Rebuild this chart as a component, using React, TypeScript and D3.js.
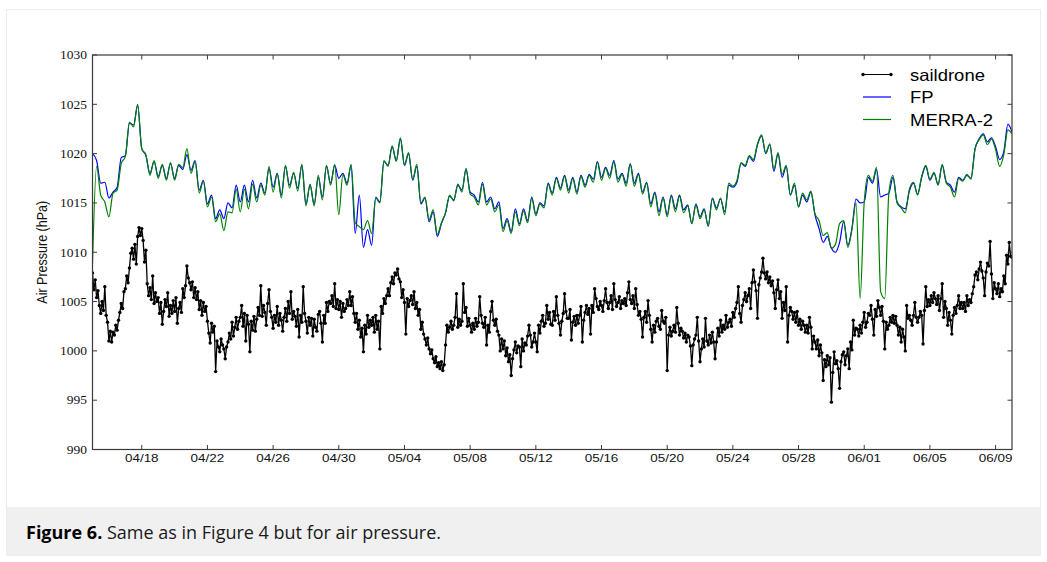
import React from 'react';
import * as d3 from 'd3';

const W = 1047;
const H = 562;

// Time axis: 2018-04-15 00:00 UTC to 2018-06-10 00:00 UTC
const startDay = [2018, 3, 15];
const endDay = [2018, 5, 10];
const xTickLabels = ['04/18', '04/22', '04/26', '04/30', '05/04', '05/08', '05/12', '05/16', '05/20', '05/24', '05/28', '06/01', '06/05', '06/09'];
const yTickValues = [990, 995, 1000, 1005, 1010, 1015, 1020, 1025, 1030];

// FP (6-hourly, one row per day starting 04/15)
const fpDays: number[][] = [
  [1020.0, 1019.3, 1017.0, 1017.1],
  [1015.5, 1016.1, 1016.6, 1019.6],
  [1019.8, 1023.1, 1022.9, 1024.9],
  [1020.5, 1019.8, 1018.0, 1019.2],
  [1017.7, 1018.8, 1017.5, 1019.0],
  [1017.5, 1018.8, 1018.4, 1019.9],
  [1018.3, 1019.3, 1016.3, 1017.3],
  [1014.9, 1015.8, 1013.4, 1014.3],
  [1013.4, 1015.0, 1014.5, 1016.8],
  [1015.1, 1016.8, 1015.1, 1017.3],
  [1015.5, 1017.0, 1016.0, 1018.5],
  [1016.6, 1018.0, 1015.8, 1018.7],
  [1016.8, 1018.0, 1016.5, 1018.8],
  [1014.9, 1016.8, 1014.9, 1017.6],
  [1015.6, 1018.7, 1017.0, 1018.8],
  [1017.5, 1018.0, 1017.0, 1018.8],
  [1011.9, 1015.8, 1010.5, 1012.3],
  [1010.7, 1015.6, 1015.1, 1019.2],
  [1018.8, 1020.7, 1019.3, 1021.5],
  [1018.8, 1020.0, 1017.3, 1018.7],
  [1014.9, 1015.5, 1013.1, 1014.1],
  [1011.6, 1012.9, 1014.0, 1015.7],
  [1015.3, 1016.8, 1016.3, 1018.4],
  [1016.1, 1015.8, 1015.1, 1017.1],
  [1015.1, 1015.6, 1014.4, 1015.1],
  [1012.4, 1013.4, 1012.1, 1014.4],
  [1012.9, 1014.4, 1013.2, 1015.6],
  [1013.9, 1015.0, 1014.7, 1017.0],
  [1016.0, 1017.6, 1016.5, 1017.8],
  [1016.3, 1017.6, 1016.1, 1017.8],
  [1016.8, 1017.9, 1017.4, 1019.2],
  [1017.6, 1018.6, 1017.8, 1019.3],
  [1017.4, 1018.0, 1017.0, 1019.0],
  [1017.0, 1018.0, 1016.1, 1017.1],
  [1014.9, 1016.1, 1014.1, 1015.6],
  [1013.8, 1015.8, 1014.4, 1015.8],
  [1014.3, 1014.8, 1012.9, 1014.9],
  [1013.6, 1014.4, 1012.7, 1015.5],
  [1014.5, 1015.4, 1014.1, 1016.8],
  [1016.6, 1017.1, 1019.0, 1018.7],
  [1019.7, 1019.2, 1020.9, 1021.8],
  [1020.0, 1020.9, 1018.2, 1020.0],
  [1017.6, 1018.7, 1015.8, 1016.8],
  [1014.6, 1015.8, 1015.1, 1016.1],
  [1013.8, 1012.4, 1011.0, 1011.6],
  [1010.4, 1010.0, 1011.0, 1013.1],
  [1010.7, 1012.4, 1015.4, 1015.0],
  [1015.1, 1017.6, 1017.0, 1018.4],
  [1015.6, 1015.8, 1016.0, 1017.6],
  [1015.1, 1014.6, 1014.4, 1016.2],
  [1017.0, 1015.9, 1017.6, 1018.7],
  [1017.3, 1018.0, 1016.9, 1018.8],
  [1017.1, 1016.8, 1016.1, 1017.6],
  [1017.3, 1017.8, 1017.5, 1020.5],
  [1021.5, 1022.0, 1021.2, 1021.6],
  [1020.7, 1019.4, 1020.2, 1023.0],
  [1022.2],
];

// MERRA-2 (6-hourly, one row per day starting 04/15)
const merraDays: number[][] = [
  [1008.8, 1018.7, 1015.8, 1015.1],
  [1013.6, 1016.0, 1016.3, 1019.0],
  [1019.7, 1023.2, 1022.7, 1025.0],
  [1020.5, 1019.9, 1017.8, 1019.3],
  [1017.5, 1018.9, 1017.3, 1019.1],
  [1017.3, 1018.9, 1018.6, 1020.5],
  [1018.0, 1019.2, 1016.0, 1017.2],
  [1014.6, 1015.6, 1013.1, 1013.9],
  [1012.2, 1014.1, 1014.0, 1016.4],
  [1014.1, 1016.4, 1014.4, 1016.9],
  [1015.1, 1016.8, 1015.8, 1018.7],
  [1016.1, 1018.0, 1015.5, 1018.8],
  [1016.5, 1018.1, 1016.2, 1018.9],
  [1014.7, 1016.9, 1014.7, 1017.8],
  [1015.3, 1018.8, 1016.8, 1018.9],
  [1013.8, 1017.9, 1016.8, 1018.9],
  [1013.0, 1012.6, 1012.3, 1013.2],
  [1011.9, 1015.5, 1015.0, 1019.3],
  [1018.7, 1020.8, 1019.2, 1021.6],
  [1018.9, 1020.1, 1017.4, 1018.9],
  [1015.0, 1015.6, 1013.3, 1014.3],
  [1011.8, 1013.0, 1014.0, 1015.8],
  [1015.2, 1016.9, 1016.1, 1018.5],
  [1015.9, 1015.6, 1014.8, 1016.9],
  [1014.8, 1015.4, 1014.1, 1014.8],
  [1012.1, 1013.2, 1011.9, 1014.1],
  [1012.7, 1014.2, 1013.0, 1015.5],
  [1013.7, 1014.9, 1014.5, 1016.9],
  [1015.8, 1017.5, 1016.3, 1017.7],
  [1016.0, 1017.5, 1015.9, 1017.7],
  [1016.6, 1017.8, 1017.1, 1019.1],
  [1017.3, 1018.5, 1017.5, 1019.2],
  [1017.1, 1017.9, 1016.7, 1018.9],
  [1016.7, 1017.9, 1015.9, 1017.0],
  [1014.6, 1016.0, 1013.7, 1015.5],
  [1013.6, 1015.7, 1014.1, 1015.7],
  [1014.0, 1014.7, 1012.9, 1014.8],
  [1013.4, 1014.3, 1012.6, 1015.4],
  [1014.3, 1015.5, 1013.8, 1017.0],
  [1016.7, 1017.3, 1019.1, 1018.8],
  [1019.8, 1019.4, 1021.0, 1021.9],
  [1020.1, 1021.0, 1018.4, 1020.1],
  [1017.9, 1018.8, 1015.8, 1017.0],
  [1014.6, 1016.0, 1015.3, 1016.2],
  [1013.9, 1013.2, 1011.7, 1012.0],
  [1010.4, 1010.8, 1012.9, 1013.2],
  [1010.5, 1012.3, 1015.0, 1005.3],
  [1015.1, 1017.8, 1017.2, 1018.6],
  [1006.0, 1005.3, 1016.0, 1017.8],
  [1015.0, 1014.5, 1014.0, 1016.4],
  [1017.1, 1015.8, 1017.7, 1018.8],
  [1017.4, 1018.1, 1016.8, 1018.9],
  [1017.0, 1016.6, 1015.6, 1017.5],
  [1017.2, 1017.9, 1017.4, 1020.5],
  [1021.4, 1021.9, 1020.9, 1021.5],
  [1020.4, 1018.7, 1019.9, 1022.4],
  [1022.0],
];

// Saildrone (2-hourly, one row per day starting 04/15)
const saildroneDays: number[][] = [
  [1007.9, 1006.2, 1007.2, 1005.4, 1006.1, 1004.6, 1003.8, 1005.0, 1004.1, 1006.5, 1003.6, 1002.9],
  [1001.0, 1002.0, 1000.9, 1001.9, 1001.6, 1002.6, 1002.1, 1003.1, 1003.9, 1004.8, 1004.3, 1006.0],
  [1006.3, 1007.6, 1006.9, 1008.4, 1009.9, 1010.4, 1009.3, 1010.8, 1008.8, 1011.6, 1012.5, 1011.7],
  [1012.4, 1011.2, 1009.0, 1010.2, 1006.8, 1005.6, 1006.4, 1005.2, 1007.6, 1004.8, 1005.9, 1005.0],
  [1005.4, 1003.8, 1004.9, 1002.7, 1004.0, 1005.2, 1004.5, 1005.9, 1003.5, 1004.6, 1003.8, 1005.1],
  [1004.0, 1005.4, 1002.8, 1004.3, 1004.9, 1003.9, 1006.3, 1005.4, 1006.6, 1008.6, 1007.4, 1006.9],
  [1006.2, 1007.0, 1005.4, 1006.4, 1005.2, 1006.0, 1004.2, 1005.1, 1003.6, 1004.9, 1004.0, 1004.5],
  [1003.0, 1001.8, 1000.8, 1002.8, 1001.9, 1002.5, 997.9, 1001.0, 1000.4, 999.9, 1001.2, 1000.6],
  [1000.2, 999.2, 1000.4, 1000.9, 1001.8, 1001.2, 1002.9, 1001.5, 1002.4, 1003.4, 1002.2, 1003.0],
  [1003.4, 1004.6, 1002.5, 1003.8, 1001.0, 1003.6, 1002.7, 999.9, 1003.0, 1002.1, 1003.5, 1002.0],
  [1003.2, 1004.4, 1003.6, 1006.6, 1003.5, 1004.6, 1003.9, 1002.6, 1004.8, 1006.2, 1004.0, 1003.4],
  [1002.3, 1003.6, 1002.9, 1004.5, 1002.6, 1003.8, 1003.1, 1002.0, 1003.4, 1004.3, 1003.0, 1005.0],
  [1003.8, 1006.0, 1003.2, 1004.0, 1003.5, 1002.5, 1004.2, 1001.4, 1003.6, 1002.9, 1006.5, 1003.8],
  [1003.0, 1001.8, 1003.4, 1002.6, 1003.3, 1001.5, 1003.2, 1002.4, 1002.0, 1003.7, 1004.0, 1002.8],
  [1000.9, 1003.6, 1002.8, 1004.9, 1004.0, 1005.0, 1004.8, 1005.6, 1004.5, 1006.8, 1004.3, 1005.2],
  [1004.2, 1005.0, 1003.4, 1004.8, 1004.0, 1004.3, 1005.2, 1004.6, 1006.0, 1004.6, 1005.5, 1003.8],
  [1002.9, 1003.8, 1002.2, 1003.1, 1001.4, 1002.3, 999.9, 1002.6, 1001.7, 1003.6, 1002.4, 1003.1],
  [1002.6, 1003.4, 1001.9, 1003.6, 1002.2, 1003.0, 1000.2, 1004.5, 1003.8, 1005.3, 1004.8, 1005.6],
  [1006.3, 1005.6, 1006.9, 1007.5, 1006.8, 1007.9, 1007.7, 1008.3, 1007.3, 1007.0, 1005.4, 1006.2],
  [1004.9, 1001.7, 1005.3, 1004.5, 1005.1, 1005.6, 1004.7, 1006.0, 1004.3, 1004.9, 1003.6, 1004.2],
  [1002.2, 1002.9, 1001.7, 1001.2, 1000.6, 1001.3, 1000.2, 999.7, 1000.1, 999.2, 998.8, 999.4],
  [998.4, 998.8, 998.2, 998.9, 998.0, 998.6, 1000.6, 1002.6, 1001.9, 1002.4, 1003.0, 1002.2],
  [1002.6, 1003.4, 1005.8, 1002.4, 1003.2, 1002.6, 1003.0, 1006.8, 1003.9, 1004.4, 1002.5, 1003.3],
  [1002.6, 1001.9, 1002.8, 1002.2, 1003.3, 1002.5, 1002.9, 1005.5, 1003.6, 1002.8, 1002.4, 1003.4],
  [1000.6, 1002.6, 1001.9, 1004.0, 1005.0, 1003.1, 1002.6, 1003.2, 1002.0, 1001.6, 1000.0, 1001.2],
  [1000.2, 1001.0, 999.5, 1000.3, 998.9, 999.6, 997.5, 999.2, 1000.1, 1000.9, 999.8, 1000.5],
  [1000.4, 998.4, 1001.2, 1000.0, 1000.8, 1000.6, 1001.5, 1002.6, 1001.6, 1000.4, 1000.9, 1001.8],
  [1000.9, 999.9, 1002.6, 1001.8, 1003.0, 1003.6, 1002.5, 1002.8, 1004.6, 1003.2, 1003.9, 1002.7],
  [1002.6, 1004.0, 1003.1, 1005.5, 1003.6, 1002.8, 1001.6, 1003.0, 1003.8, 1005.8, 1004.0, 1003.3],
  [1003.3, 1004.2, 1001.1, 1002.9, 1003.5, 1002.6, 1003.6, 1002.8, 1003.6, 1004.5, 1000.9, 1003.1],
  [1003.9, 1004.6, 1003.7, 1004.3, 1001.7, 1004.6, 1003.9, 1006.3, 1005.3, 1004.5, 1004.2, 1005.0],
  [1004.6, 1004.0, 1005.1, 1006.3, 1004.9, 1004.3, 1004.9, 1005.6, 1004.2, 1006.8, 1005.2, 1004.5],
  [1004.9, 1005.5, 1004.3, 1005.1, 1004.8, 1005.3, 1004.6, 1005.9, 1007.0, 1005.2, 1004.8, 1005.6],
  [1004.3, 1006.3, 1004.7, 1003.6, 1004.0, 1003.2, 1001.4, 1003.4, 1004.0, 1002.9, 1005.1, 1003.6],
  [1002.2, 1000.9, 1002.6, 1001.9, 1003.0, 1003.3, 1002.5, 1002.2, 1004.1, 1003.0, 1002.8, 1003.4],
  [998.0, 1001.6, 1002.4, 1001.5, 1002.0, 1002.6, 1001.9, 1004.4, 1002.8, 1001.6, 1002.3, 1002.0],
  [1001.3, 1001.8, 1000.9, 1001.6, 1001.4, 1000.5, 998.5, 1000.6, 1001.2, 1001.6, 1003.4, 1001.0],
  [998.9, 1000.2, 1001.2, 1000.4, 1003.3, 1001.0, 1000.6, 1001.6, 1000.8, 1001.9, 1000.9, 999.2],
  [1000.9, 1002.3, 1001.5, 1003.1, 1001.9, 1002.6, 1002.2, 1003.6, 1002.4, 1002.9, 1003.2, 1002.5],
  [1003.9, 1003.4, 1004.3, 1004.9, 1006.5, 1003.8, 1002.9, 1004.6, 1005.2, 1005.9, 1005.0, 1005.6],
  [1006.3, 1004.3, 1006.9, 1008.2, 1007.0, 1006.1, 1003.3, 1006.7, 1007.4, 1008.0, 1009.4, 1007.9],
  [1007.3, 1008.0, 1006.9, 1007.5, 1006.6, 1007.1, 1005.9, 1004.3, 1006.2, 1007.2, 1005.3, 1006.0],
  [1003.3, 1004.9, 1004.1, 1006.5, 1000.9, 1003.6, 1004.4, 1004.0, 1003.2, 1003.9, 1002.9, 1004.0],
  [1002.6, 1003.2, 1002.2, 1003.0, 1002.6, 1001.9, 1002.6, 1001.8, 1003.4, 1002.4, 1000.2, 1001.5],
  [1000.9, 1000.2, 1001.1, 999.5, 1000.6, 999.8, 997.0, 999.1, 998.4, 999.5, 998.6, 999.3],
  [994.8, 997.8, 999.9, 998.7, 999.0, 998.2, 996.2, 998.9, 999.6, 999.9, 998.6, 999.5],
  [1000.2, 998.2, 1000.9, 1000.1, 1003.1, 1001.6, 1002.3, 1002.2, 1001.5, 1002.6, 1001.8, 1002.9],
  [1003.9, 1002.4, 1002.9, 1003.8, 1003.6, 1004.6, 1003.2, 1001.6, 1004.2, 1003.5, 1005.1, 1004.4],
  [1003.6, 1004.5, 1003.0, 1000.2, 1002.9, 1002.2, 1002.6, 1003.4, 1002.9, 1003.6, 1002.8, 1003.5],
  [1002.6, 1001.6, 1002.4, 1000.9, 1002.2, 1001.4, 1000.0, 1004.6, 1003.3, 1003.6, 1003.1, 1002.6],
  [1003.6, 1004.9, 1003.4, 1002.9, 1003.4, 1004.0, 1003.6, 1000.7, 1004.1, 1006.5, 1004.5, 1005.2],
  [1004.6, 1005.6, 1004.9, 1005.9, 1005.3, 1004.7, 1005.6, 1004.1, 1005.3, 1006.8, 1003.4, 1005.0],
  [1004.3, 1002.6, 1003.9, 1003.1, 1001.7, 1003.6, 1004.4, 1003.8, 1004.6, 1005.6, 1004.3, 1004.9],
  [1004.3, 1004.9, 1004.0, 1005.6, 1004.6, 1005.2, 1004.9, 1005.8, 1006.5, 1007.7, 1008.0, 1007.2],
  [1008.3, 1009.0, 1008.1, 1007.4, 1005.6, 1008.0, 1008.9, 1008.6, 1011.1, 1007.8, 1005.3, 1006.9],
  [1006.3, 1005.8, 1006.8, 1005.5, 1006.3, 1006.0, 1007.6, 1006.8, 1009.7, 1008.8, 1011.0, 1009.6],
  [1009.5],
];

const DAY_MS = 864e5;
const t0 = Date.UTC(startDay[0], startDay[1], startDay[2]);
const t1 = Date.UTC(endDay[0], endDay[1], endDay[2]);

type Pt = { date: Date; v: number };
function toPoints(rows: number[][]): Pt[] {
  return rows.flatMap((row, d) =>
    row.map((v, j) => ({ date: new Date(t0 + (d + j / row.length) * DAY_MS), v }))
  );
}

const plot = { left: 92.5, right: 1012, top: 55, bottom: 449.5 };

export default function App() {
  const x = d3.scaleUtc().domain([new Date(t0), new Date(t1)]).range([plot.left, plot.right]);
  const y = d3.scaleLinear().domain([990, 1030]).range([plot.bottom, plot.top]);
  const line = d3
    .line<Pt>()
    .x((p) => x(p.date))
    .y((p) => y(p.v));
  const smooth = d3
    .line<Pt>()
    .x((p) => x(p.date))
    .y((p) => y(p.v))
    .curve(d3.curveMonotoneX);

  const sd = toPoints(saildroneDays);
  const fp = toPoints(fpDays);
  const me = toPoints(merraDays);

  const xTicks = xTickLabels.map((lab) => {
    const [m, d] = lab.split('/').map(Number);
    return { lab, date: new Date(Date.UTC(2018, m - 1, d)) };
  });

  const axisColor = '#3a3a3a';
  const tickLen = 4.5;
  const sans = "'Liberation Sans', Arial, sans-serif";
  const serif = "'Liberation Serif', 'Times New Roman', serif";

  const legendX0 = 863;
  const legendX1 = 891;
  const legendTextX = 910;

  return (
    <svg
      width={W}
      height={H}
      viewBox={`0 0 ${W} ${H}`}
      style={{ position: 'absolute', left: 0, top: 0, background: '#fff' }}
    >
      <defs>
        <clipPath id="plotClip">
          <rect x={plot.left} y={plot.top} width={plot.right - plot.left} height={plot.bottom - plot.top} />
        </clipPath>
      </defs>
      <rect x={0} y={0} width={W} height={H} fill="#fff" />
      <rect x={6.5} y={9.5} width={1034} height={546} fill="#fff" stroke="#ececec" strokeWidth={1} />
      <rect x={7} y={507} width={1033} height={48} fill="#f0f0f0" />

      <g clipPath="url(#plotClip)">
        <path d={line(sd) || ''} fill="none" stroke="#000" strokeWidth={1.3} strokeLinejoin="round" />
        {sd.map((p, i) => (
          <circle key={i} cx={x(p.date)} cy={y(p.v)} r={1.7} fill="#000" />
        ))}
        <path d={smooth(fp) || ''} fill="none" stroke="#0000ff" strokeWidth={1.2} />
        <path d={smooth(me) || ''} fill="none" stroke="#008000" strokeWidth={1.2} />
      </g>

      {/* frame */}
      <rect
        x={plot.left}
        y={plot.top}
        width={plot.right - plot.left}
        height={plot.bottom - plot.top}
        fill="none"
        stroke={axisColor}
        strokeWidth={1.2}
      />

      {/* x ticks */}
      {xTicks.map((t) => {
        const xx = x(t.date);
        return (
          <g key={t.lab}>
            <line x1={xx} x2={xx} y1={plot.bottom} y2={plot.bottom - tickLen} stroke={axisColor} strokeWidth={1} />
            <line x1={xx} x2={xx} y1={plot.top} y2={plot.top + tickLen} stroke={axisColor} strokeWidth={1} />
            <text
              transform={`translate(${xx},461.5) scale(1.17,1)`}
              textAnchor="middle"
              fontFamily={sans}
              fontSize={11.5}
              fill="#111"
            >
              {t.lab}
            </text>
          </g>
        );
      })}

      {/* y ticks */}
      {yTickValues.map((v) => {
        const yy = y(v);
        return (
          <g key={v}>
            <line x1={plot.left} x2={plot.left + tickLen} y1={yy} y2={yy} stroke={axisColor} strokeWidth={1} />
            <line x1={plot.right} x2={plot.right - tickLen} y1={yy} y2={yy} stroke={axisColor} strokeWidth={1} />
            <text
              transform={`translate(87,${yy + 4.3}) scale(1.08,1)`}
              textAnchor="end"
              fontFamily={serif}
              fontSize={12.5}
              fill="#111"
            >
              {v}
            </text>
          </g>
        );
      })}

      {/* y label */}
      <text
        transform={`translate(47,${(plot.top + plot.bottom) / 2}) scale(1.15,1) rotate(-90)`}
        textAnchor="middle"
        fontFamily={sans}
        fontSize={12.5}
        fill="#111"
      >
        Air Pressure (hPa)
      </text>

      {/* legend */}
      <g>
        <line x1={legendX0} x2={legendX1} y1={74.5} y2={74.5} stroke="#000" strokeWidth={1} />
        <circle cx={legendX0} cy={74.5} r={1.7} fill="#000" />
        <circle cx={legendX1} cy={74.5} r={1.7} fill="#000" />
        <text transform={`translate(${legendTextX},80.5) scale(1.12,1)`} fontFamily={sans} fontSize={16.5} fill="#000">
          saildrone
        </text>
        <line x1={legendX0} x2={legendX1} y1={97} y2={97} stroke="#0000ff" strokeWidth={1.2} />
        <text transform={`translate(${legendTextX},103) scale(1.12,1)`} fontFamily={sans} fontSize={16.5} fill="#000">
          FP
        </text>
        <line x1={legendX0} x2={legendX1} y1={119.5} y2={119.5} stroke="#008000" strokeWidth={1.2} />
        <text transform={`translate(${legendTextX},125.5) scale(1.12,1)`} fontFamily={sans} fontSize={16.5} fill="#000">
          MERRA-2
        </text>
      </g>

      {/* caption */}
      <text x={26} y={539} fontFamily="'Open Sans', sans-serif" fontSize={18} fill="#1a1a1a">
        <tspan fontWeight="bold" fill="#000">Figure 6.</tspan>
        <tspan> Same as in Figure 4 but for air pressure.</tspan>
      </text>
    </svg>
  );
}
